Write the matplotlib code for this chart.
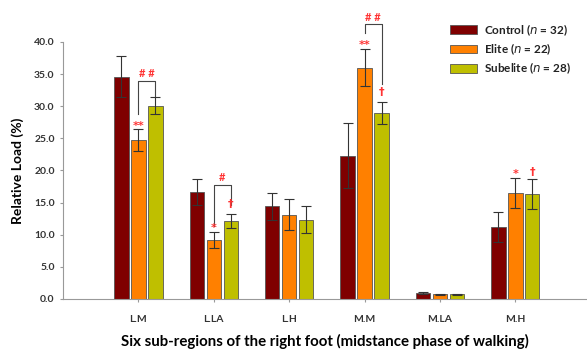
import numpy as np
import matplotlib.pyplot as plt

regions = ['L.M', 'L.LA', 'L.H', 'M.M', 'M.LA', 'M.H']
groups = ['Control ($\\it{n}$ = 32)', 'Elite ($\\it{n}$ = 22)', 'Subelite ($\\it{n}$ = 28)']
control = [34.6, 16.6, 14.4, 22.3, 0.9, 11.2]
control_err = [3.2, 2.0, 2.1, 5.1, 0.2, 2.3]
elite = [24.7, 9.2, 13.1, 36.0, 0.7, 16.5]
elite_err = [1.7, 1.25, 2.4, 2.9, 0.15, 2.3]
subelite = [30.1, 12.1, 12.3, 28.9, 0.7, 16.3]
subelite_err = [1.3, 1.1, 2.1, 1.7, 0.15, 2.3]

colors = ['#7f0000', '#ff8000', '#bfbf00']
red = '#ff3333'

plt.rcParams['font.family'] = ['Lato', 'DejaVu Sans']
fig = plt.figure(figsize=(5.87, 3.49), dpi=100)
ax = fig.add_axes([0.1073, 0.1433, 0.8927, 0.7364])

x = np.arange(1, len(regions) + 1)
w = 0.19
offs = [-0.225, 0.0, 0.225]
series = [(control, control_err), (elite, elite_err), (subelite, subelite_err)]
for (vals, errs), off, c, lab in zip(series, offs, colors, groups):
    ax.bar(x + off, vals, w, color=c, edgecolor='#555555', linewidth=0.6, label=lab,
           yerr=errs, error_kw=dict(ecolor='#333333', elinewidth=0.8, capsize=3.5, capthick=0.8))

# significance symbols (region index, bar offset index, y, text)
marks = [(0, 1, 26.2, '**'), (1, 1, 10.2, '*'), (1, 2, 14.0, '\u2020'),
         (3, 1, 38.7, '**'), (3, 2, 31.4, '\u2020'), (5, 1, 18.7, '*'), (5, 2, 19.0, '\u2020')]
for i, j, y, t in marks:
    ax.text(x[i] + offs[j], y, t, color=red, ha='center', va='bottom', fontsize=8,
            fontweight='bold', family='DejaVu Sans')

# brackets between elite and subelite (region index, left y, right y, top y, text)
brackets = [(0, 28.8, 31.6, 34.0, '# #'), (1, 11.3, 14.6, 17.8, '#'), (3, 41.4, 33.4, 42.8, '# #')]
for i, yl, yr, yt, t in brackets:
    xl, xr = x[i] + offs[1], x[i] + offs[2]
    ax.plot([xl, xl, xr, xr], [yl, yt, yt, yr], color='#444444', lw=0.8, clip_on=False)
    ax.text((xl + xr) / 2, yt + 0.2, t, color=red, ha='center', va='bottom', fontsize=8, fontweight='bold')

ax.set_xlim(0, 6.95)
ax.set_ylim(0, 40)
ax.set_yticks(np.arange(0, 41, 5))
ax.set_yticklabels(['%.1f' % v for v in np.arange(0, 41, 5)])
ax.set_xticks(x)
ax.set_xticklabels(regions)
for s in ['top', 'right']:
    ax.spines[s].set_visible(False)
for s in ['left', 'bottom']:
    ax.spines[s].set_color('#999999')
ax.tick_params(colors='#999999', labelcolor='#333333', labelsize=7.5, length=2.5, width=0.8)
for lbl in ax.get_xticklabels() + ax.get_yticklabels():
    lbl.set_fontweight('bold')
ax.tick_params(axis='x', pad=9)

ax.set_ylabel('Relative Load (%)', fontsize=10, fontweight='bold', labelpad=7)
ax.set_xlabel('Six sub-regions of the right foot (midstance phase of walking)',
              fontsize=10.8, fontweight='bold', labelpad=7)

leg = ax.legend(loc='upper left', bbox_to_anchor=(450 / 587, 1 - 22 / 349), bbox_transform=fig.transFigure,
                frameon=False, fontsize=8.5, borderpad=0, borderaxespad=0,
                handlelength=2.3, handleheight=0.75, handletextpad=0.6, labelspacing=0.32)
for t in leg.get_texts():
    t.set_fontweight('bold')
    t.set_color('#222222')

fig.savefig('out.png', dpi=100)
